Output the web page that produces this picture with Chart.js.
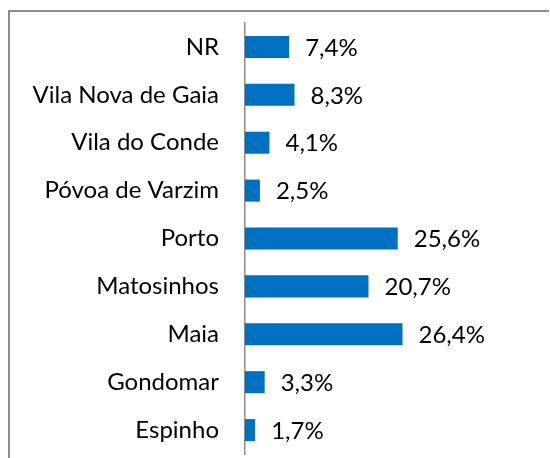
<!DOCTYPE html>
<html>
<head>
<meta charset="utf-8">
<script src="https://cdn.jsdelivr.net/npm/chart.js@4.4.0/dist/chart.umd.min.js"></script>
<style>
  html, body { margin: 0; padding: 0; background: #fff; overflow: hidden; }
  #myChart { display: block; width: 550px; height: 458px; }
</style>
</head>
<body>
<canvas id="myChart" width="550" height="458"></canvas>
<script>
const categories = [
  "NR",
  "Vila Nova de Gaia",
  "Vila do Conde",
  "Póvoa de Varzim",
  "Porto",
  "Matosinhos",
  "Maia",
  "Gondomar",
  "Espinho",
];
const values = [7.4, 8.3, 4.1, 2.5, 25.6, 20.7, 26.4, 3.3, 1.7];

const labelFont = { family: "Lato", size: 24 };

// outer frame, only the top and left edges are inside the picture
const framePlugin = {
  id: "frame",
  beforeDraw(chart) {
    const ctx = chart.ctx;
    ctx.save();
    ctx.strokeStyle = "#8c8c8c";
    ctx.lineWidth = 2;
    ctx.beginPath();
    ctx.moveTo(9, 470);
    ctx.lineTo(9, 11);
    ctx.lineTo(549, 11);
    ctx.stroke();
    ctx.restore();
  },
};

// value labels after the end of each bar
const valueLabels = {
  id: "valueLabels",
  afterDatasetsDraw(chart) {
    const ctx = chart.ctx;
    const meta = chart.getDatasetMeta(0);
    ctx.save();
    ctx.font = labelFont.size + "px " + labelFont.family;
    ctx.fillStyle = "#000";
    ctx.textAlign = "left";
    ctx.textBaseline = "middle";
    meta.data.forEach((bar, i) => {
      const txt = values[i].toFixed(1).replace(".", ",") + "%";
      ctx.fillText(txt, bar.x + 16, bar.y + 1);
    });
    ctx.restore();
  },
};

const data = {
  labels: categories,
  datasets: [
    {
      data: values,
      backgroundColor: "#0070C0",
      barPercentage: 0.46,
      categoryPercentage: 1,
    },
  ],
};

const config = {
  type: "bar",
  data: data,
  options: {
    indexAxis: "y",
    responsive: false,
    maintainAspectRatio: false,
    devicePixelRatio: 1,
    animation: false,
    layout: { padding: { left: 0, top: 23, bottom: 4, right: 126 } },
    plugins: { legend: { display: false }, tooltip: { enabled: false } },
    scales: {
      x: { display: false, min: 0, max: 30 },
      y: {
        grid: { display: false, drawTicks: false },
        border: { display: true, color: "#8c8c8c", width: 1.5 },
        ticks: { color: "#000", font: labelFont, padding: 26 },
        afterFit(scale) {
          scale.width = 245;
          scale.paddingTop = 0;
          scale.paddingBottom = 0;
        },
      },
    },
  },
  plugins: [framePlugin, valueLabels],
};

new Chart(document.getElementById("myChart").getContext("2d"), config);
</script>
</body>
</html>
